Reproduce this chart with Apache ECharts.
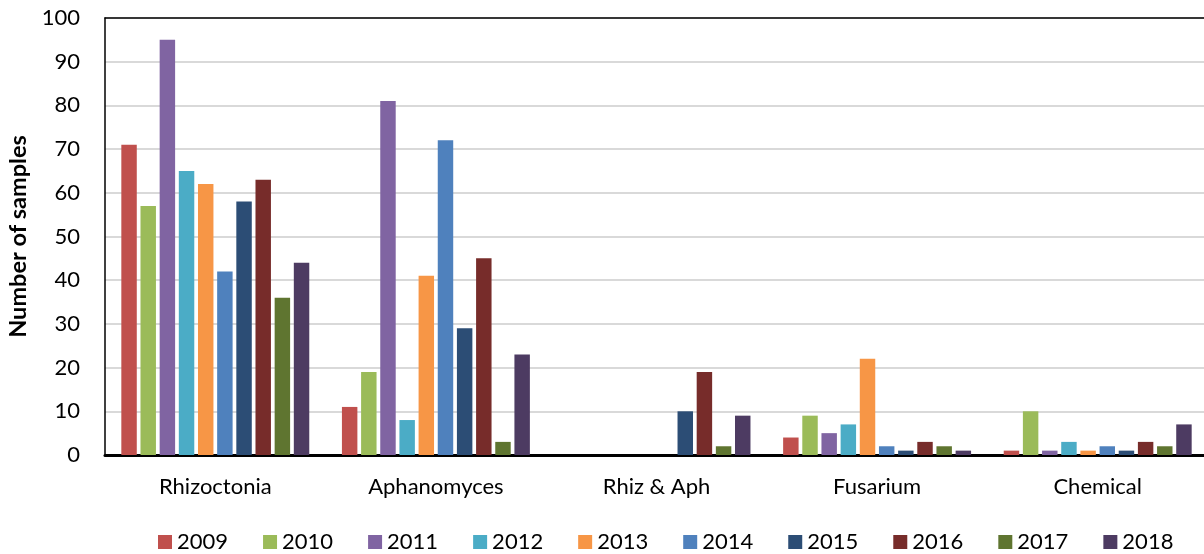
<!DOCTYPE html>
<html>
<head>
<meta charset="utf-8">
<script src="https://cdn.jsdelivr.net/npm/echarts@6/dist/echarts.min.js"></script>
<style>
  html, body { margin: 0; padding: 0; background: #fff; }
  #chart { width: 1204px; height: 554px; }
</style>
</head>
<body>
<div id="chart"></div>
<script>
const categories = ['Rhizoctonia', 'Aphanomyces', 'Rhiz & Aph', 'Fusarium', 'Chemical'];
const years = ['2009', '2010', '2011', '2012', '2013', '2014', '2015', '2016', '2017', '2018'];
const colors = ['#C0504D', '#9BBB59', '#8064A2', '#4BACC6', '#F79646',
                '#4F81BD', '#2C4D75', '#772C2A', '#5F7530', '#4D3B62'];

// values per year, ordered as categories
const v2009 = [71, 11, 0, 4, 1];
const v2010 = [57, 19, 0, 9, 10];
const v2011 = [95, 81, 0, 5, 1];
const v2012 = [65, 8, 0, 7, 3];
const v2013 = [62, 41, 0, 22, 1];
const v2014 = [42, 72, 0, 2, 2];
const v2015 = [58, 29, 10, 1, 1];
const v2016 = [63, 45, 19, 3, 3];
const v2017 = [36, 3, 2, 2, 2];
const v2018 = [44, 23, 9, 1, 7];
const values = [v2009, v2010, v2011, v2012, v2013, v2014, v2015, v2016, v2017, v2018];

const font = 'Lato, "Liberation Sans", sans-serif';

const chart = echarts.init(document.getElementById('chart'));

// 柱状图系列
const series = years.map((y, i) => ({
  name: y,
  type: 'bar',
  data: values[i],
  barGap: '24%',
  barCategoryGap: '14.8%',
  itemStyle: { color: colors[i] }
}));

chart.setOption({
  animation: false,
  color: colors,
  grid: { left: 105, right: -4, top: 18, bottom: 99, outerBoundsMode: 'none', containLabel: false },
  legend: {
    left: 153,
    top: 526,
    icon: 'rect',
    itemWidth: 14,
    itemHeight: 14,
    itemGap: 35,
    textStyle: { fontFamily: font, fontSize: 22, color: '#000' },
    data: years
  },
  xAxis: [{
    type: 'category',
    data: categories,
    axisLine: { lineStyle: { color: '#000', width: 3 } },
    axisTick: { show: false },
    axisLabel: { fontFamily: font, fontSize: 22, color: '#000', margin: 21 }
  }, {
    // top frame line
    type: 'category',
    position: 'top',
    data: categories,
    axisLine: { lineStyle: { color: '#000', width: 1.5 } },
    axisTick: { show: false },
    axisLabel: { show: false }
  }],
  yAxis: {
    type: 'value',
    min: 0, max: 100, interval: 10,
    name: 'Number of samples',
    nameLocation: 'middle',
    nameGap: 74,
    nameTextStyle: { fontFamily: font, fontSize: 23.5, fontWeight: 'bold', color: '#000' },
    axisLine: { show: true, lineStyle: { color: '#000', width: 1.5 } },
    axisTick: { show: false },
    axisLabel: { fontFamily: font, fontSize: 22, color: '#000', margin: 25 },
    splitLine: { lineStyle: { color: '#d9d9d9', width: 2 } }
  },
  series: series
});
</script>
</body>
</html>
